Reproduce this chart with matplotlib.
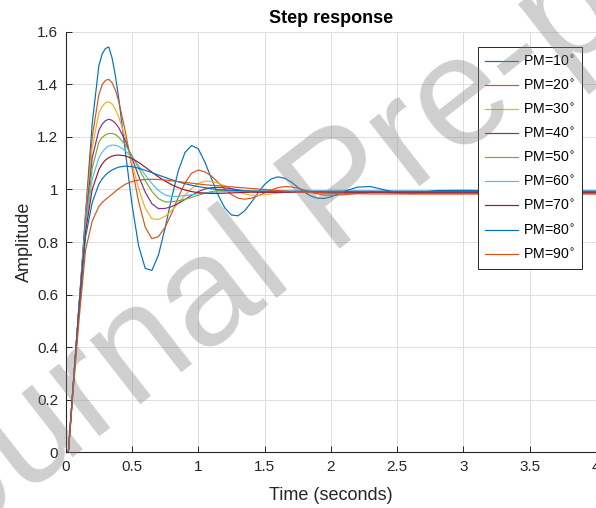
import matplotlib
matplotlib.use("Agg")
import matplotlib.pyplot as plt

plt.rcParams['font.family'] = ['Liberation Sans', 'DejaVu Sans']

# time samples (s)
t = [0, 0.02, 0.05, 0.1, 0.15, 0.2, 0.25, 0.275, 0.3, 0.325, 0.35, 0.375,
     0.4, 0.45, 0.5, 0.55, 0.6, 0.65, 0.7, 0.75, 0.8, 0.85,
     0.9, 0.95, 1.0, 1.05, 1.1, 1.15, 1.2, 1.25, 1.3, 1.35,
     1.4, 1.45, 1.5, 1.55, 1.6, 1.65, 1.7, 1.75, 1.8, 1.85,
     1.9, 1.95, 2.0, 2.1, 2.2, 2.3, 2.4, 2.5, 2.6, 2.8,
     3.0, 3.5, 4.0]

pm10 = [0, 0, 0.21, 0.55, 0.91, 1.25, 1.47, 1.515, 1.536, 1.542, 1.50, 1.432,
        1.347, 1.145, 0.943, 0.786, 0.700, 0.692, 0.751, 0.854, 0.970, 1.072,
        1.141, 1.167, 1.155, 1.104, 1.041, 0.979, 0.930, 0.903, 0.900, 0.919,
        0.951, 0.987, 1.019, 1.040, 1.048, 1.043, 1.029, 1.009, 0.990, 0.975,
        0.967, 0.966, 0.972, 0.993, 1.009, 1.011, 0.999, 0.988, 0.985, 0.996,
        0.997, 0.993, 0.993]
pm20 = [0, 0, 0.21, 0.55, 0.90, 1.20, 1.36, 1.398, 1.415, 1.419, 1.406, 1.378,
        1.336, 1.221, 1.084, 0.954, 0.857, 0.813, 0.821, 0.856, 0.910, 0.971,
        1.025, 1.062, 1.074, 1.067, 1.051, 1.027, 1.002, 0.981, 0.967, 0.963,
        0.967, 0.976, 0.987, 0.998, 1.007, 1.011, 1.010, 1.005, 0.998, 0.990,
        0.983, 0.979, 0.978, 0.980, 0.985, 0.988, 0.988, 0.986, 0.984, 0.984,
        0.984, 0.984, 0.984]
pm30 = [0, 0, 0.21, 0.55, 0.89, 1.16, 1.29, 1.315, 1.33, 1.334, 1.325, 1.305,
        1.276, 1.196, 1.099, 1.004, 0.929, 0.889, 0.886, 0.898, 0.920, 0.948,
        0.978, 1.004, 1.023, 1.032, 1.030, 1.024, 1.014, 1.003, 0.992, 0.983,
        0.978, 0.978, 0.980, 0.983, 0.986, 0.989, 0.991, 0.992, 0.992, 0.992,
        0.991, 0.991, 0.990, 0.990, 0.990, 0.990, 0.990, 0.990, 0.990, 0.990,
        0.990, 0.990, 0.990]
pm40 = [0, 0, 0.21, 0.55, 0.88, 1.12, 1.225, 1.248, 1.262, 1.267, 1.263, 1.252,
        1.235, 1.185, 1.120, 1.051, 0.990, 0.946, 0.927, 0.928, 0.935, 0.947,
        0.962, 0.978, 0.992, 1.002, 1.007, 1.008, 1.006, 1.003, 0.999, 0.995,
        0.992, 0.990, 0.989, 0.989, 0.989, 0.990, 0.990, 0.990, 0.990, 0.990,
        0.990, 0.990, 0.990, 0.990, 0.990, 0.990, 0.990, 0.990, 0.990, 0.990,
        0.990, 0.990, 0.990]
pm50 = [0, 0, 0.21, 0.55, 0.87, 1.08, 1.18, 1.198, 1.208, 1.213, 1.213, 1.209,
        1.199, 1.170, 1.129, 1.081, 1.034, 0.993, 0.965, 0.953, 0.953, 0.957,
        0.963, 0.970, 0.978, 0.986, 0.992, 0.996, 0.997, 0.997, 0.996, 0.995,
        0.994, 0.993, 0.993, 0.992, 0.992, 0.992, 0.992, 0.992, 0.992, 0.992,
        0.992, 0.992, 0.992, 0.992, 0.992, 0.992, 0.992, 0.992, 0.992, 0.992,
        0.992, 0.992, 0.992]
pm60 = [0, 0, 0.21, 0.55, 0.86, 1.04, 1.12, 1.142, 1.156, 1.165, 1.169, 1.168,
        1.164, 1.147, 1.122, 1.090, 1.055, 1.023, 0.996, 0.979, 0.973, 0.974,
        0.977, 0.980, 0.984, 0.987, 0.989, 0.991, 0.992, 0.992, 0.992, 0.992,
        0.992, 0.992, 0.992, 0.992, 0.992, 0.992, 0.992, 0.992, 0.992, 0.992,
        0.992, 0.992, 0.992, 0.992, 0.992, 0.992, 0.992, 0.992, 0.992, 0.992,
        0.992, 0.992, 0.992]
pm70 = [0, 0, 0.21, 0.55, 0.84, 1.00, 1.075, 1.097, 1.112, 1.121, 1.127, 1.130,
        1.131, 1.128, 1.118, 1.103, 1.085, 1.066, 1.048, 1.032, 1.018, 1.007,
        0.998, 0.992, 0.988, 0.986, 0.985, 0.985, 0.986, 0.987, 0.988, 0.989,
        0.990, 0.990, 0.990, 0.990, 0.990, 0.990, 0.990, 0.990, 0.990, 0.990,
        0.990, 0.990, 0.990, 0.990, 0.990, 0.990, 0.990, 0.990, 0.990, 0.990,
        0.990, 0.990, 0.990]
pm80 = [0, 0, 0.20, 0.53, 0.82, 0.95, 1.02, 1.040, 1.055, 1.066, 1.074, 1.080,
        1.085, 1.089, 1.087, 1.081, 1.073, 1.064, 1.055, 1.046, 1.037, 1.029,
        1.022, 1.016, 1.011, 1.007, 1.003, 1.000, 0.998, 0.997, 0.996, 0.995,
        0.994, 0.994, 0.994, 0.994, 0.994, 0.994, 0.994, 0.994, 0.994, 0.994,
        0.994, 0.994, 0.994, 0.994, 0.994, 0.994, 0.994, 0.994, 0.994, 0.994,
        0.994, 0.994, 0.994]
pm90 = [0, 0, 0.19, 0.50, 0.77, 0.88, 0.935, 0.950, 0.962, 0.972, 0.982, 0.993,
        1.003, 1.020, 1.030, 1.036, 1.038, 1.039, 1.038, 1.036, 1.033, 1.030,
        1.027, 1.024, 1.021, 1.018, 1.016, 1.014, 1.012, 1.010, 1.008, 1.006,
        1.004, 1.002, 1.000, 0.998, 0.996, 0.994, 0.992, 0.990, 0.989, 0.988,
        0.987, 0.986, 0.985, 0.984, 0.984, 0.983, 0.983, 0.983, 0.983, 0.983,
        0.983, 0.983, 0.983]

series = [pm10, pm20, pm30, pm40, pm50, pm60, pm70, pm80, pm90]
labels = ['PM=10$^{\\circ}$', 'PM=20$^{\\circ}$', 'PM=30$^{\\circ}$',
          'PM=40$^{\\circ}$', 'PM=50$^{\\circ}$', 'PM=60$^{\\circ}$',
          'PM=70$^{\\circ}$', 'PM=80$^{\\circ}$', 'PM=90$^{\\circ}$']
colors = ['#0072BD', '#D95319', '#EDB120', '#7E2F8E', '#77AC30',
          '#4DBEEE', '#A2142F', '#0072BD', '#D95319']

xticks = [0, 0.5, 1, 1.5, 2, 2.5, 3, 3.5, 4]
xticklabels = ['0', '0.5', '1', '1.5', '2', '2.5', '3', '3.5', '4']
yticks = [0, 0.2, 0.4, 0.6, 0.8, 1.0, 1.2, 1.4, 1.6]
yticklabels = ['0', '0.2', '0.4', '0.6', '0.8', '1', '1.2', '1.4', '1.6']

fig = plt.figure(figsize=(5.96, 5.08), dpi=100)
ax = fig.add_axes([0.1102, 0.1093, 0.8898, 0.8283])

for vals, lab, col in zip(series, labels, colors):
    ax.plot(t, vals, color=col, lw=0.85, label=lab)

ax.set_xlim(0, 4)
ax.set_ylim(0, 1.6)
ax.set_xticks(xticks)
ax.set_xticklabels(xticklabels)
ax.set_yticks(yticks)
ax.set_yticklabels(yticklabels)
ax.grid(True, color='#dedede', lw=0.7)
ax.set_axisbelow(True)
ax.tick_params(direction='in', length=4, width=0.7, colors='#262626',
               labelsize=11, pad=5.5)
for s in ['top', 'right']:
    ax.spines[s].set_visible(False)
for s in ['left', 'bottom']:
    ax.spines[s].set_color('#262626')
    ax.spines[s].set_linewidth(0.8)

ax.set_title('Step response', fontsize=13, fontweight='bold', pad=6, color='#000000')
ax.set_xlabel('Time (seconds)', fontsize=13, color='#262626', labelpad=9)
ax.set_ylabel('Amplitude', fontsize=13, color='#262626', labelpad=3)

leg = ax.legend(loc='upper right', bbox_to_anchor=(0.9734, 0.9636),
                borderaxespad=0, fontsize=10.2, handlelength=2.3,
                handletextpad=0.35, labelspacing=0.68, fancybox=False,
                framealpha=1, borderpad=0.5)
leg.get_frame().set_edgecolor('#262626')
leg.get_frame().set_linewidth(0.7)

# watermark
fig.text(0.5755, 0.616, 'Journal Pre-proof', rotation=38, fontsize=112,
         color='gray', alpha=0.38, ha='center', va='center',
         rotation_mode='anchor', zorder=10)

fig.savefig('out.png', dpi=100)
